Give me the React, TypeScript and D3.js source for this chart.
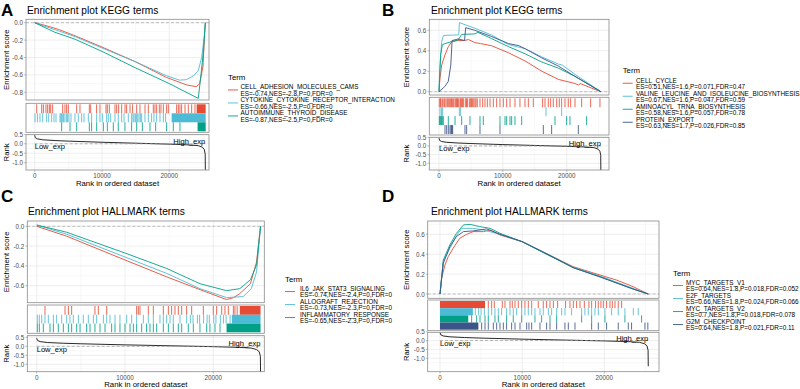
import React from "react";
import * as d3 from "d3";

type Pt = [number, number];

const FONT = "'Liberation Sans', Arial, Helvetica, sans-serif";
const palette = ["#E64B35", "#4DBBD5", "#00A087", "#3C5488"];

// ---- shared data ----
const xTicks = [0, 10000, 20000];
const rankTicks = [0.5, 0, -0.5, -1];
const rankMetric: Pt[] = [
  [0, 0.45], [100, 0.32], [400, 0.26], [1200, 0.21], [3000, 0.17], [5000, 0.14],
  [10000, 0.08], [15000, 0.03], [20000, -0.02], [23000, -0.06], [24300, -0.1],
  [24900, -0.18], [25200, -0.3], [25330, -0.55], [25350, -1.45],
];

// ---- A: KEGG, down ----
const aTerms = ["CELL_ADHESION_MOLECULES_CAMS", "CYTOKINE_CYTOKINE_RECEPTOR_INTERACTION", "AUTOIMMUNE_THYROID_DISEASE"];
const aStats = ["ES=-0.74,NES=-2.8,P=0,FDR=0", "ES=-0.66,NES=-2.5,P=0,FDR=0", "ES=-0.87,NES=-2.5,P=0,FDR=0"];
const aYTicks = [0, -0.2, -0.4, -0.6, -0.8];
const aCellAdhesion: Pt[] = [[0, 0], [1500, -0.03], [3500, -0.076], [6000, -0.15], [10000, -0.28], [15000, -0.45], [19600, -0.63], [22600, -0.716], [24000, -0.735], [24500, -0.7], [25000, -0.5], [25250, -0.1], [25350, 0]];
const aCytokine: Pt[] = [[0, 0], [3000, -0.08], [6000, -0.16], [10000, -0.29], [15000, -0.45], [19600, -0.61], [21500, -0.66], [22500, -0.655], [23600, -0.61], [24300, -0.55], [24800, -0.4], [25200, -0.15], [25350, 0]];
const aAutoimmune: Pt[] = [[0, 0], [3000, -0.11], [6000, -0.19], [10000, -0.33], [15000, -0.52], [20000, -0.7], [24300, -0.87], [24700, -0.6], [25100, -0.3], [25350, 0]];
const aHitsCell = [300, 1040, 1290, 1680, 1930, 2180, 2380, 2670, 4160, 4500, 4750, 5000, 6240, 6730, 8120, 8320, 9200, 9700, 10590, 10790, 11090, 11930, 12180, 12470, 12920, 13420, 13660, 14160, 14550, 15150, 15640, 16390, 16880, 17620, 17870, 18120, 18510, 18760, 19110, 19600, 19850, 21090, 21340, 21580, 21830, 22330, 22820, 23320, 23810];
const aHitsCytokine = [50, 400, 790, 1190, 1780, 2080, 2520, 2870, 3170, 3760, 3900, 3960, 4160, 4300, 4500, 4750, 4900, 5100, 5400, 5990, 6480, 6980, 7330, 7970, 8460, 9210, 9700, 10050, 10690, 10940, 11290, 11930, 12420, 12920, 13270, 13910, 14400, 14600, 14750, 14950, 15100, 15300, 15500, 15700, 15890, 16380, 16880, 17370, 17720, 18120, 18610, 19110, 19450];
const aHitsAutoimmune = [4010, 5250, 6240, 8120, 8460, 9210, 10200, 10790, 11680, 12420, 13410, 14400, 15150, 15990, 17130, 17970, 19600, 20590, 21580];
const aBlocks: [number, number, number][] = [[0, 24060, 25400], [1, 20340, 25400], [2, 24200, 25400]];

// ---- B: KEGG, up ----
const bTerms = ["CELL_CYCLE", "VALINE_LEUCINE_AND_ISOLEUCINE_BIOSYNTHESIS", "AMINOACYL_TRNA_BIOSYNTHESIS", "PROTEIN_EXPORT"];
const bStats = ["ES=0.51,NES=1.6,P=0.071,FDR=0.47", "ES=0.67,NES=1.6,P=0.047,FDR=0.59", "ES=0.58,NES=1.6,P=0.057,FDR=0.78", "ES=0.63,NES=1.7,P=0.026,FDR=0.85"];
const bYTicks = [0, 0.2, 0.4, 0.6];
const bCellCycle: Pt[] = [[0, 0], [150, 0.13], [420, 0.26], [940, 0.36], [1460, 0.44], [2000, 0.49], [3000, 0.5], [4000, 0.5], [4600, 0.51], [5600, 0.48], [6500, 0.47], [8200, 0.45], [10900, 0.38], [13500, 0.3], [16100, 0.2], [18700, 0.12], [21300, 0.08], [21900, 0.065], [22100, 0.08], [23900, 0.035], [25350, 0]];
const bValine: Pt[] = [[0, 0], [100, 0.2], [420, 0.49], [700, 0.55], [3100, 0.555], [3190, 0.675], [5600, 0.62], [8200, 0.555], [10900, 0.46], [13500, 0.42], [16100, 0.34], [18700, 0.27], [19300, 0.26], [21300, 0.17], [25350, 0]];
const bAminoacyl: Pt[] = [[0, 0], [260, 0.36], [520, 0.46], [940, 0.47], [2000, 0.49], [3000, 0.505], [3550, 0.56], [5600, 0.565], [6100, 0.58], [8200, 0.52], [10900, 0.44], [13500, 0.37], [16100, 0.29], [18700, 0.23], [21300, 0.15], [25350, 0]];
const bProtein: Pt[] = [[0, 0], [900, 0.05], [1450, 0.1], [1850, 0.26], [2050, 0.5], [3000, 0.515], [4000, 0.5], [4180, 0.625], [5600, 0.6], [8200, 0.54], [10900, 0.47], [12500, 0.45], [13500, 0.42], [16100, 0.33], [18700, 0.25], [21300, 0.15], [25350, 0]];
const bHitsCell = [52, 260, 300, 570, 780, 900, 1100, 1300, 1450, 1620, 1830, 1950, 2140, 2300, 2510, 2650, 2770, 2900, 3030, 3290, 3400, 3550, 3700, 3810, 4120, 4300, 4440, 4750, 4960, 5100, 5270, 5450, 5640, 5800, 6000, 6420, 6840, 7200, 7570, 7990, 8510, 9030, 9550, 10070, 10600, 11120, 11900, 12680, 13470, 13990, 14770, 16230, 16600, 17120, 17490, 17900, 18430, 18840, 19210, 19730, 20250, 20620, 21300, 22340, 23750, 25210];
const bHitsValine = [150, 380, 570, 3190, 3390, 16760, 19210];
const bHitsAminoacyl = [52, 150, 260, 400, 520, 680, 1460, 2510, 3550, 4850, 6420, 6940, 9550, 10340, 10600, 11120, 11380, 11900, 12950, 18170, 19990, 20510, 23120];
const bHitsProtein = [940, 1200, 1460, 1720, 1880, 1980, 2050, 2140, 4070, 4330, 6420, 9550, 16340, 17640, 21820];
const bBlocks: [number, number, number][] = [];

// ---- C: HALLMARK, down ----
const cTerms = ["IL6_JAK_STAT3_SIGNALING", "ALLOGRAFT_REJECTION", "INFLAMMATORY_RESPONSE"];
const cStats = ["ES=-0.74,NES=-2.4,P=0,FDR=0", "ES=-0.73,NES=-2.3,P=0,FDR=0", "ES=-0.65,NES=-2.3,P=0,FDR=0"];
const cYTicks = [0, -0.2, -0.4, -0.6];
const cIl6: Pt[] = [[0, 0], [3400, -0.1], [10000, -0.34], [14700, -0.51], [18500, -0.64], [21500, -0.74], [22300, -0.72], [23000, -0.68], [24200, -0.58], [24900, -0.36], [25350, 0]];
const cAllograft: Pt[] = [[0, 0.013], [3400, -0.08], [10000, -0.31], [14700, -0.475], [18500, -0.63], [21500, -0.72], [23400, -0.71], [24300, -0.63], [24900, -0.46], [25350, 0]];
const cInflam: Pt[] = [[0, 0.013], [3400, -0.06], [10000, -0.27], [14700, -0.425], [18500, -0.58], [21500, -0.65], [23000, -0.63], [24200, -0.54], [24900, -0.39], [25350, 0]];
const cHitsIl6 = [940, 3210, 3590, 3960, 6600, 6980, 7930, 11320, 11510, 11700, 12640, 13210, 14340, 14910, 15280, 15660, 16040, 16420, 16980, 17550, 18870, 20000, 20380, 20950, 21320, 21700, 22270, 22450, 22700];
const cHitsAllograft = [75, 300, 570, 940, 1320, 1890, 2260, 2830, 3400, 3770, 4150, 4720, 5280, 5850, 6420, 6790, 7550, 7930, 8300, 8870, 9430, 10190, 10760, 11320, 12080, 12640, 13210, 13960, 14340, 14720, 15100, 15470, 16230, 16980, 17400, 17700, 18200, 18450, 18900, 19300, 19550, 20050, 20300, 20800, 21150, 21450, 21900];
const cHitsInflam = [75, 300, 750, 1510, 1890, 2450, 3020, 3590, 3960, 4530, 4910, 5660, 6040, 6600, 7170, 7740, 8490, 8870, 9430, 10000, 10570, 10950, 11320, 11890, 12450, 12830, 13210, 13590, 14340, 14910, 15470, 16040, 16420, 17170, 17740, 18490, 19250, 19620, 20190, 20760];
const cBlocks: [number, number, number][] = [[0, 23000, 25350], [1, 22100, 25350], [2, 21500, 25350]];

// ---- D: HALLMARK, up ----
const dTerms = ["MYC_TARGETS_V1", "E2F_TARGETS", "MYC_TARGETS_V2", "G2M_CHECKPOINT"];
const dStats = ["ES=0.64,NES=1.8,P=0.018,FDR=0.052", "ES=0.66,NES=1.8,P=0.024,FDR=0.066", "ES=0.7,NES=1.8,P=0.018,FDR=0.078", "ES=0.64,NES=1.8,P=0.021,FDR=0.11"];
const dYTicks = [0, 0.2, 0.4, 0.6];
const dMycV1: Pt[] = [[0, 0], [200, 0.16], [600, 0.29], [1000, 0.375], [1600, 0.46], [2400, 0.56], [3250, 0.6], [4050, 0.627], [5300, 0.627], [6100, 0.643], [7300, 0.593], [10000, 0.526], [13400, 0.39], [16200, 0.275], [19500, 0.19], [21500, 0.14], [23500, 0.074], [25350, 0]];
const dE2f: Pt[] = [[0, 0], [400, 0.325], [1200, 0.46], [2000, 0.587], [2650, 0.66], [4000, 0.66], [5300, 0.643], [7300, 0.6], [10000, 0.526], [13400, 0.38], [16200, 0.27], [19500, 0.18], [23500, 0.057], [25350, 0]];
const dMycV2: Pt[] = [[0, 0], [400, 0.342], [1200, 0.493], [2000, 0.61], [2850, 0.694], [3650, 0.7], [4850, 0.677], [6100, 0.66], [7300, 0.61], [10000, 0.526], [13400, 0.385], [16200, 0.265], [19500, 0.174], [23500, 0.05], [25350, 0]];
const dG2m: Pt[] = [[0, 0], [400, 0.308], [1200, 0.476], [2000, 0.577], [2850, 0.627], [4050, 0.634], [5700, 0.654], [7300, 0.6], [10000, 0.526], [13400, 0.385], [16200, 0.265], [19500, 0.17], [23500, 0.05], [25350, 0]];
const dHitsMycV1 = [5880, 6290, 6610, 7585, 7910, 8520, 8800, 9130, 9530, 9940, 10340, 10750, 11160, 11960, 12570, 12980, 13390, 13800, 14320, 15290, 15820, 16230, 16630, 17040, 17570, 18130, 18460, 18940, 19270, 19590, 19880, 20280, 20690, 20970, 21300, 21700, 22110];
const dHitsE2f = [4300, 4700, 5000, 5400, 5880, 6290, 6690, 7100, 7500, 8110, 8520, 8920, 9330, 9940, 10340, 10750, 11160, 11560, 12170, 12570, 13190, 13590, 14200, 14810, 15210, 16020, 17240, 17640, 18050, 18460, 18860, 19270, 20080, 20890, 21700, 22510, 23530, 24130];
const dHitsMycV2 = [3850, 4460, 4870, 5480, 5880, 6690, 7100, 8110, 8920, 9940, 11560, 12370, 13390, 14200, 17240, 18460, 20080, 22510, 24540];
const dHitsG2m = [5070, 5480, 5880, 6490, 6900, 7300, 7710, 8110, 8720, 9130, 9740, 10550, 10830, 11160, 12170, 12980, 13390, 14200, 15210, 15620, 16430, 18460, 19270, 20280, 21700, 22920, 23320, 24950, 25300];
const dBlocks: [number, number, number][] = [[0, 0, 5480], [1, 0, 4000], [2, 0, 3440], [3, 0, 4670]];

// ---- layout (pixels) ----
const layouts = {
  A: { label: "A", labelX: 1, labelY: 16, titleX: 27, titleY: 10, left: 26, right: 209, esTop: 19.3, esBot: 100, rugTop: 103.3, rugBot: 132.3, rkTop: 134.7, rkBot: 170, x0: 34.67, x20: 169.33, esV: [0, -0.8], esP: [22.7, 92.3], rkP: [134.3, 162.7], xLabY: 175.5, xTitleY: 183.5, yTitleX: 6, legX: 228, legTitleY: 77, legFirst: 86.7, textX: 240.5 },
  B: { label: "B", labelX: 382, labelY: 16, titleX: 431, titleY: 10, left: 429.3, right: 609, esTop: 19.3, esBot: 95, rugTop: 97.3, rugBot: 135, rkTop: 137.3, rkBot: 170, x0: 439, x20: 566.7, esV: [0, 0.6], esP: [91.7, 30.3], rkP: [137.3, 163.3], xLabY: 175.5, xTitleY: 183.5, yTitleX: 406, legX: 622.7, legTitleY: 70, legFirst: 80, textX: 636 },
  C: { label: "C", labelX: 1, labelY: 202, titleX: 28, titleY: 211.7, left: 27.3, right: 264.3, esTop: 221, esBot: 302.7, rugTop: 305, rugBot: 333.3, rkTop: 335.7, rkBot: 371.7, x0: 36.67, x20: 213.3, esV: [0, -0.6], esP: [226.3, 285.7], rkP: [337.3, 364.3], xLabY: 377.7, xTitleY: 384.3, yTitleX: 6, legX: 285, legTitleY: 279.7, legFirst: 288.3, textX: 300 },
  D: { label: "D", labelX: 382, labelY: 202, titleX: 431, titleY: 211.7, left: 427.7, right: 659, esTop: 221, esBot: 298.3, rugTop: 300, rugBot: 330.7, rkTop: 332.3, rkBot: 371.7, x0: 440, x20: 604.3, esV: [0, 0.6], esP: [294, 234.3], rkP: [331.7, 358.3], xLabY: 377.7, xTitleY: 384.3, yTitleX: 406, legX: 673, legTitleY: 273.3, legFirst: 282.3, textX: 686 },
};

const BORDER = "#8a8a8a";
const GRID = "#e6e6e6";
const GRID_MINOR = "#f1f1f1";
const TICK_TXT = "#4d4d4d";

function Panel(props: any) {
  const { lay, title, terms, stats, curves, hits, blocks, yTicks } = props;
  const x = d3.scaleLinear().domain([0, 20000]).range([lay.x0, lay.x20]);
  const y = d3.scaleLinear().domain(lay.esV).range(lay.esP);
  const yr = d3.scaleLinear().domain([0.5, -1]).range(lay.rkP);
  const id = lay.label;

  const xMinor = [5000, 15000, 25000].filter((v) => x(v) > lay.left && x(v) < lay.right);
  const esLo = y.invert(lay.esBot), esHi = y.invert(lay.esTop);
  const esMin = Math.min(esLo, esHi), esMax = Math.max(esLo, esHi);
  const esMinor = d3.range(-1, 1.01, 0.1).map((v) => +v.toFixed(2))
    .filter((v) => v > esMin && v < esMax && !yTicks.some((t: number) => Math.abs(t - v) < 1e-6));
  const rkMinor = [0.25, -0.25, -0.75, -1.25].filter((v) => yr(v) > lay.rkTop && yr(v) < lay.rkBot);

  const esLine = d3.line<Pt>().x((d) => x(d[0])).y((d) => y(d[1]));
  const rkLine = d3.line<Pt>().x((d) => x(d[0])).y((d) => yr(d[1]));

  const n = terms.length;
  const rowH = (lay.rugBot - lay.rugTop - 2) / n;
  const rowTop = (i: number) => lay.rugTop + 1 + i * rowH;
  const w = lay.right - lay.left;
  const step = 6.5;

  const vGrid = (top: number, bot: number) => (
    <g>
      {xMinor.map((v) => <line key={"mi" + v} x1={x(v)} x2={x(v)} y1={top} y2={bot} stroke={GRID_MINOR} strokeWidth={0.5} />)}
      {xTicks.map((v) => <line key={"ma" + v} x1={x(v)} x2={x(v)} y1={top} y2={bot} stroke={GRID} strokeWidth={0.7} />)}
    </g>
  );

  return (
    <g fontFamily={FONT}>
      <defs>
        <clipPath id={"clipEs" + id}><rect x={lay.left} y={lay.esTop} width={w} height={lay.esBot - lay.esTop} /></clipPath>
        <clipPath id={"clipRk" + id}><rect x={lay.left} y={lay.rkTop} width={w} height={lay.rkBot - lay.rkTop} /></clipPath>
      </defs>
      <text x={lay.labelX} y={lay.labelY} fontSize={17} fontWeight="bold" fill="#000">{lay.label}</text>
      <text x={lay.titleX} y={lay.titleY} fontSize={10.2} dominantBaseline="central" fill="#000">{title}</text>

      {/* enrichment score panel */}
      <rect x={lay.left} y={lay.esTop} width={w} height={lay.esBot - lay.esTop} fill="#fff" />
      {vGrid(lay.esTop, lay.esBot)}
      {esMinor.map((v: number) => <line key={"em" + v} x1={lay.left} x2={lay.right} y1={y(v)} y2={y(v)} stroke={GRID_MINOR} strokeWidth={0.5} />)}
      {yTicks.map((v: number) => <line key={"eM" + v} x1={lay.left} x2={lay.right} y1={y(v)} y2={y(v)} stroke={GRID} strokeWidth={0.7} />)}
      <line x1={lay.left} x2={lay.right} y1={y(0)} y2={y(0)} stroke="#a8a8a8" strokeWidth={0.7} strokeDasharray="3,2" />
      <g clipPath={`url(#clipEs${id})`}>
        {curves.map((c: Pt[], i: number) => (
          <path key={i} d={esLine(c) || ""} fill="none" stroke={palette[i]} strokeWidth={0.9} />
        ))}
      </g>
      <rect x={lay.left} y={lay.esTop} width={w} height={lay.esBot - lay.esTop} fill="none" stroke={BORDER} strokeWidth={0.8} />
      {yTicks.map((v: number) => (
        <g key={"yt" + v}>
          <line x1={lay.left - 1.8} x2={lay.left} y1={y(v)} y2={y(v)} stroke={BORDER} strokeWidth={0.6} />
          <text x={lay.left - 3} y={y(v)} fontSize={6.3} textAnchor="end" dominantBaseline="central" fill={TICK_TXT}>{v.toFixed(1)}</text>
        </g>
      ))}
      <text transform={`translate(${lay.yTitleX},${(lay.esTop + lay.esBot) / 2}) rotate(-90)`} fontSize={7.8} textAnchor="middle" dominantBaseline="central" fill="#000">Enrichment score</text>

      {/* rug panel */}
      <rect x={lay.left} y={lay.rugTop} width={w} height={lay.rugBot - lay.rugTop} fill="#fff" />
      {vGrid(lay.rugTop, lay.rugBot)}
      {hits.map((hs: number[], i: number) => hs.map((h, j) => (
        <line key={i + "-" + j} x1={x(h)} x2={x(h)} y1={rowTop(i)} y2={rowTop(i) + rowH} stroke={palette[i]} strokeWidth={0.85} />
      )))}
      {blocks.map((b: [number, number, number], k: number) => (
        <rect key={"b" + k} x={x(b[1])} y={rowTop(b[0])} width={x(b[2]) - x(b[1])} height={rowH} fill={palette[b[0]]} />
      ))}
      <rect x={lay.left} y={lay.rugTop} width={w} height={lay.rugBot - lay.rugTop} fill="none" stroke={BORDER} strokeWidth={0.8} />

      {/* rank panel */}
      <rect x={lay.left} y={lay.rkTop} width={w} height={lay.rkBot - lay.rkTop} fill="#fff" />
      {vGrid(lay.rkTop, lay.rkBot)}
      {rkMinor.map((v) => <line key={"rm" + v} x1={lay.left} x2={lay.right} y1={yr(v)} y2={yr(v)} stroke={GRID_MINOR} strokeWidth={0.5} />)}
      {rankTicks.filter((v) => yr(v) >= lay.rkTop - 0.5).map((v) => <line key={"rM" + v} x1={lay.left} x2={lay.right} y1={yr(v)} y2={yr(v)} stroke={GRID} strokeWidth={0.7} />)}
      <g clipPath={`url(#clipRk${id})`}>
        <path d={rkLine(rankMetric) || ""} fill="none" stroke="#111" strokeWidth={0.9} />
        <line x1={x(0)} x2={x(25350)} y1={yr(0)} y2={yr(0)} stroke="#9a9a9a" strokeWidth={0.7} strokeDasharray="3,2" />
      </g>
      <text x={x(0)} y={yr(-0.15)} fontSize={7.6} dominantBaseline="central" fill="#000">Low_exp</text>
      <text x={x(25350)} y={yr(0.14)} fontSize={7.6} textAnchor="end" dominantBaseline="central" fill="#000">High_exp</text>
      <rect x={lay.left} y={lay.rkTop} width={w} height={lay.rkBot - lay.rkTop} fill="none" stroke={BORDER} strokeWidth={0.8} />
      {rankTicks.map((v) => (
        <g key={"rt" + v}>
          <line x1={lay.left - 1.8} x2={lay.left} y1={yr(v)} y2={yr(v)} stroke={BORDER} strokeWidth={0.6} />
          <text x={lay.left - 3} y={yr(v)} fontSize={6.3} textAnchor="end" dominantBaseline="central" fill={TICK_TXT}>{v.toFixed(1)}</text>
        </g>
      ))}
      <text transform={`translate(${lay.yTitleX},${(lay.rkTop + lay.rkBot) / 2}) rotate(-90)`} fontSize={7.8} textAnchor="middle" dominantBaseline="central" fill="#000">Rank</text>
      {xTicks.map((v) => (
        <g key={"xt" + v}>
          <line x1={x(v)} x2={x(v)} y1={lay.rkBot} y2={lay.rkBot + 1.8} stroke={BORDER} strokeWidth={0.6} />
          <text x={x(v)} y={lay.xLabY} fontSize={6.3} textAnchor="middle" dominantBaseline="central" fill={TICK_TXT}>{v}</text>
        </g>
      ))}
      <text x={(lay.left + lay.right) / 2} y={lay.xTitleY} fontSize={7.8} textAnchor="middle" dominantBaseline="central" fill="#000">Rank in ordered dataset</text>

      {/* legend */}
      <text x={lay.legX} y={lay.legTitleY} fontSize={7.8} dominantBaseline="central" fill="#000">Term</text>
      {terms.map((t: string, i: number) => {
        const y1 = lay.legFirst + 2 * i * step;
        return (
          <g key={"lg" + i}>
            <line x1={lay.legX} x2={lay.legX + 10} y1={y1 + step / 2} y2={y1 + step / 2} stroke={palette[i]} strokeWidth={0.9} />
            <text x={lay.textX} y={y1} fontSize={6.4} dominantBaseline="central" fill="#000">{t}</text>
            <text x={lay.textX} y={y1 + step} fontSize={6.4} dominantBaseline="central" fill="#000">{stats[i]}</text>
          </g>
        );
      })}
    </g>
  );
}

export default function App() {
  return (
    <svg width={800} height={389} viewBox="0 0 800 389" style={{ position: "absolute", left: 0, top: 0, background: "#fff" }}>
      <rect width={800} height={389} fill="#fff" />
      <Panel lay={layouts.A} title="Enrichment plot KEGG terms" terms={aTerms} stats={aStats}
        curves={[aCellAdhesion, aCytokine, aAutoimmune]} hits={[aHitsCell, aHitsCytokine, aHitsAutoimmune]} blocks={aBlocks} yTicks={aYTicks} />
      <Panel lay={layouts.B} title="Enrichment plot KEGG terms" terms={bTerms} stats={bStats}
        curves={[bCellCycle, bValine, bAminoacyl, bProtein]} hits={[bHitsCell, bHitsValine, bHitsAminoacyl, bHitsProtein]} blocks={bBlocks} yTicks={bYTicks} />
      <Panel lay={layouts.C} title="Enrichment plot HALLMARK terms" terms={cTerms} stats={cStats}
        curves={[cIl6, cAllograft, cInflam]} hits={[cHitsIl6, cHitsAllograft, cHitsInflam]} blocks={cBlocks} yTicks={cYTicks} />
      <Panel lay={layouts.D} title="Enrichment plot HALLMARK terms" terms={dTerms} stats={dStats}
        curves={[dMycV1, dE2f, dMycV2, dG2m]} hits={[dHitsMycV1, dHitsE2f, dHitsMycV2, dHitsG2m]} blocks={dBlocks} yTicks={dYTicks} />
    </svg>
  );
}
